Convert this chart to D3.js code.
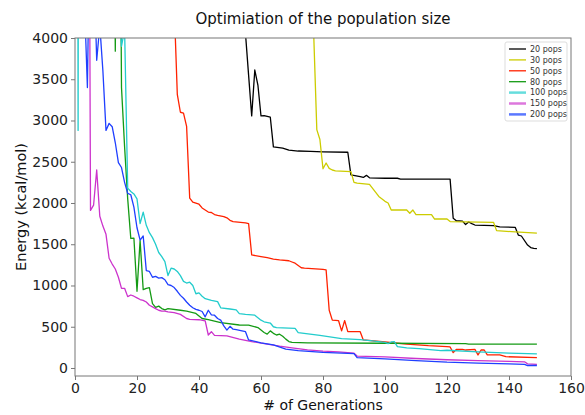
<!DOCTYPE html>
<html>
<head>
<meta charset="utf-8">
<script src="https://cdn.jsdelivr.net/npm/d3@7"></script>
<style>
  body { margin: 0; background: #fff; }
  text { font-family: "DejaVu Sans", sans-serif; }
</style>
</head>
<body>
<script>
// population sizes (legend)
const labels = ["20 pops", "30 pops", "50 pops", "80 pops", "100 pops", "150 pops", "200 pops"];
const colors = ["#000000", "#cccc00", "#ff2200", "#149a14", "#22cccc", "#cc33cc", "#1f3fff"];
const legendColors = ["#000000", "#cccc00", "#ff2200", "#149a14", "#66dddd", "#dd77dd", "#5a78ff"];

// [generation, energy] (values above 4000 are clipped)
const pop20 = [[54, 4600], [55, 4050], [56, 3550], [57, 3055], [58, 3612], [59, 3430], [60, 3055], [61, 3060],
  [62, 3050], [63, 3040], [64, 2680], [67, 2665], [69, 2640], [72, 2630], [76, 2625], [80, 2620], [88, 2615],
  [89, 2340], [92, 2320], [93, 2310], [94, 2335], [95, 2305], [100, 2300], [104, 2300], [105, 2290],
  [121, 2290], [122, 1815], [123, 1785], [125, 1780], [126, 1740], [127, 1770], [128, 1750], [129, 1733],
  [135, 1725], [137, 1710], [142, 1705], [143, 1612], [144, 1600], [146, 1490], [147, 1460], [148, 1450], [149, 1446]];

const pop30 = [[76, 6000], [77, 4050], [78, 2890], [79, 2770], [80, 2415], [81, 2485], [82, 2420], [83, 2400],
  [84, 2390], [89, 2380], [90, 2250], [91, 2240], [95, 2225], [98, 2080], [100, 2020], [101, 2000], [102, 1915],
  [107, 1915], [108, 1875], [109, 1915], [110, 1860], [115, 1860], [116, 1806], [120, 1806], [121, 1775],
  [135, 1766], [136, 1665], [142, 1650], [149, 1636]];

const pop50 = [[31, 6000], [32, 4400], [33, 3317], [34, 3100], [35, 3090], [36, 2930], [37, 2060], [38, 2010],
  [40, 1985], [41, 1940], [43, 1890], [44, 1885], [45, 1860], [46, 1850], [48, 1835], [49, 1820], [50, 1790],
  [51, 1775], [55, 1760], [56, 1750], [57, 1370], [60, 1350], [62, 1337], [64, 1320], [66, 1310], [69, 1300],
  [70, 1285], [71, 1270], [73, 1215], [74, 1210], [80, 1195], [81, 1190], [82, 700], [83, 580], [85, 575],
  [86, 450], [87, 575], [88, 440], [92, 440], [93, 340], [100, 315], [107, 290], [114, 270], [120, 258],
  [121, 255], [122, 186], [123, 225], [125, 226], [126, 218], [129, 226], [130, 158], [131, 218], [132, 218],
  [133, 158], [137, 158], [139, 137], [149, 125]];

const pop80 = [[12, 9000], [13, 3840], [14, 9000], [15, 3400], [16, 2680], [17, 2050], [18, 1570], [19, 1575],
  [20, 930], [21, 1545], [22, 950], [23, 965], [24, 975], [25, 780], [26, 735], [27, 750], [28, 720], [29, 705],
  [30, 720], [34, 700], [36, 690], [39, 662], [41, 600], [43, 585], [47, 550], [53, 521], [56, 520], [59, 490],
  [60, 460], [61, 430], [62, 410], [63, 450], [64, 420], [65, 400], [66, 410], [67, 385], [68, 350], [69, 320],
  [70, 310], [75, 305], [100, 300], [126, 296], [127, 290], [149, 290]];

const pop100 = [[0, 30000], [1, 2880], [2, 30000], [14, 4600], [15, 3900], [16, 4100], [17, 2180], [18, 2140],
  [19, 2110], [20, 2050], [21, 1750], [22, 1890], [23, 1730], [24, 1640], [25, 1580], [26, 1500], [27, 1400],
  [28, 1350], [29, 1290], [30, 1120], [31, 1210], [32, 1200], [33, 1170], [34, 1120], [35, 1050], [36, 1030],
  [37, 1040], [38, 1000], [39, 900], [40, 910], [41, 870], [42, 840], [44, 820], [46, 805], [47, 730],
  [50, 715], [52, 705], [53, 660], [55, 650], [58, 640], [60, 580], [61, 560], [63, 545], [64, 500], [65, 490],
  [71, 480], [72, 430], [79, 395], [86, 355], [92, 345], [96, 330], [100, 310], [101, 295], [102, 315],
  [103, 320], [104, 260], [107, 245], [111, 235], [118, 210], [120, 215], [130, 195], [140, 180], [149, 170]];

const pop150 = [[4, 12000], [5, 1910], [6, 1975], [7, 2400], [8, 1840], [9, 1720], [10, 1620], [11, 1330],
  [12, 1260], [13, 1200], [14, 1100], [15, 966], [16, 966], [17, 865], [18, 885], [19, 870], [20, 850],
  [21, 830], [22, 820], [23, 800], [24, 760], [25, 740], [26, 720], [27, 700], [28, 690], [29, 690], [30, 680],
  [32, 670], [34, 650], [36, 600], [37, 590], [40, 585], [42, 570], [43, 400], [44, 440], [45, 395], [49, 390],
  [53, 350], [57, 320], [62, 290], [66, 265], [70, 245], [75, 220], [80, 205], [85, 195], [90, 180], [91, 145],
  [100, 135], [110, 115], [120, 100], [130, 90], [140, 80], [145, 75], [146, 50], [149, 45]];

const pop200 = [[3, 4500], [4, 3400], [5, 6000], [6, 5000], [7, 3730], [8, 4150], [9, 3600], [10, 2880],
  [11, 2965], [12, 2925], [13, 2730], [14, 2490], [15, 2430], [16, 2250], [17, 2117], [18, 2100], [19, 1950],
  [20, 1700], [21, 1550], [22, 1600], [23, 1180], [24, 1170], [25, 1100], [26, 1110], [27, 1090], [28, 1095],
  [29, 1070], [30, 1010], [31, 1000], [32, 975], [33, 930], [34, 880], [35, 845], [36, 800], [37, 760],
  [38, 730], [39, 710], [40, 700], [41, 685], [42, 620], [43, 700], [44, 645], [45, 640], [46, 600], [47, 580],
  [48, 510], [49, 460], [50, 505], [51, 470], [52, 465], [55, 440], [56, 340], [60, 305], [64, 280], [68, 230],
  [72, 210], [80, 190], [90, 175], [91, 125], [100, 110], [110, 90], [120, 70], [130, 60], [140, 50],
  [145, 45], [146, 30], [149, 30]];

const series = [pop20, pop30, pop50, pop80, pop100, pop150, pop200];
const xTicks = [0, 20, 40, 60, 80, 100, 120, 140, 160];
const yTicks = [0, 500, 1000, 1500, 2000, 2500, 3000, 3500, 4000];

const W = 585, H = 415;
const m = { left: 75, right: 14, top: 38, bottom: 39 };

const svg = d3.select("body").append("svg")
  .attr("width", W).attr("height", H);

const x = d3.scaleLinear().domain([0, 160]).range([m.left, W - m.right]);
const y = d3.scaleLinear().domain([-97, 4000]).range([H - m.bottom, m.top]);

svg.append("defs").append("clipPath").attr("id", "plot")
  .append("rect")
  .attr("x", m.left).attr("y", m.top)
  .attr("width", W - m.right - m.left).attr("height", H - m.bottom - m.top);

const line = d3.line().x(d => x(d[0])).y(d => y(d[1]));

svg.append("g").attr("clip-path", "url(#plot)")
  .selectAll("path")
  .data(series)
  .join("path")
  .attr("d", line)
  .attr("fill", "none")
  .attr("stroke", (d, i) => colors[i])
  .attr("stroke-width", 1.3)
  .attr("stroke-linejoin", "round");

// axes
const xAxis = svg.append("g")
  .attr("transform", `translate(0,${H - m.bottom})`)
  .call(d3.axisBottom(x).tickValues(xTicks).tickFormat(d3.format("d")).tickSize(4).tickPadding(3));
const yAxis = svg.append("g")
  .attr("transform", `translate(${m.left},0)`)
  .call(d3.axisLeft(y).tickValues(yTicks).tickFormat(d3.format("d")).tickSize(4).tickPadding(3));
[xAxis, yAxis].forEach(a => {
  a.selectAll("text").attr("font-size", 14).attr("fill", "#222")
    .style("font-family", "DejaVu Sans, sans-serif");
  a.selectAll("line").attr("stroke", "#777");
  a.select(".domain").remove();
});

// frame
svg.append("rect")
  .attr("x", m.left).attr("y", m.top)
  .attr("width", W - m.right - m.left).attr("height", H - m.bottom - m.top)
  .attr("fill", "none").attr("stroke", "#777").attr("stroke-width", 1);

svg.append("text")
  .attr("x", (m.left + W - m.right) / 2).attr("y", 24)
  .attr("text-anchor", "middle").attr("font-size", 15).attr("fill", "#111")
  .text("Optimiation of the population size");

svg.append("text")
  .attr("x", (m.left + W - m.right) / 2).attr("y", 410)
  .attr("text-anchor", "middle").attr("font-size", 14).attr("fill", "#111")
  .text("# of Generations");

svg.append("text")
  .attr("transform", `translate(26,${(m.top + H - m.bottom) / 2}) rotate(-90)`)
  .attr("text-anchor", "middle").attr("font-size", 14.5).attr("fill", "#111")
  .text("Energy (kcal/mol)");

// legend
const lg = svg.append("g").attr("transform", "translate(505,42)");
lg.append("rect")
  .attr("width", 62).attr("height", 79).attr("rx", 2)
  .attr("fill", "#fff").attr("stroke", "#ddd");
const rows = lg.selectAll("g.row").data(labels).join("g")
  .attr("class", "row")
  .attr("transform", (d, i) => `translate(0,${7 + i * 10.9})`);
rows.append("line")
  .attr("x1", 4).attr("x2", 21)
  .attr("stroke", (d, i) => legendColors[i])
  .attr("stroke-width", (d, i) => i < 4 ? 1.3 : 2.5);
rows.append("text")
  .attr("x", 25).attr("dy", "0.35em")
  .attr("font-size", 8).attr("fill", "#333")
  .text(d => d);
</script>
</body>
</html>
